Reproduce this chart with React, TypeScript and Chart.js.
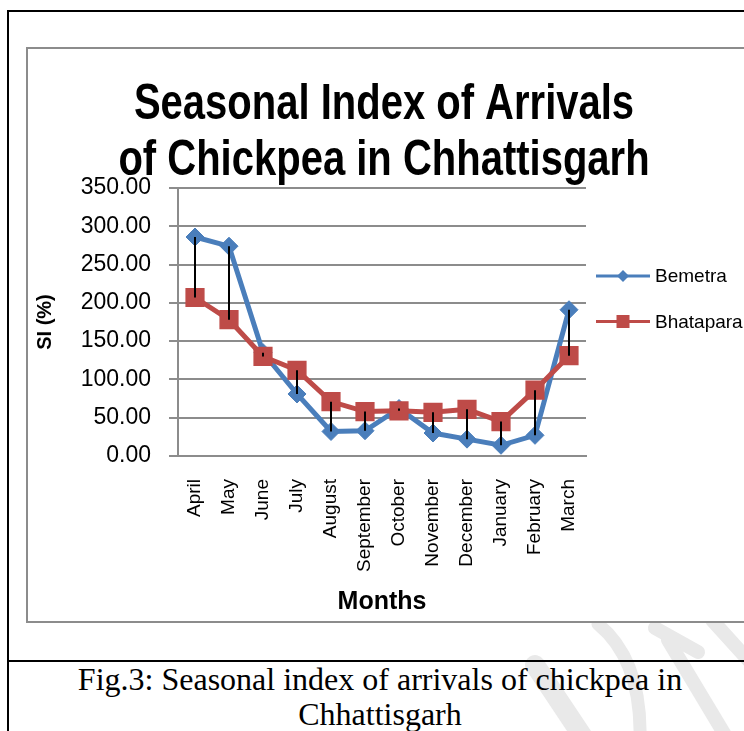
import React, { useEffect, useRef } from "react";
import { Chart, registerables } from "chart.js";

Chart.register(...registerables);

const months = ["April", "May", "June", "July", "August", "September", "October", "November", "December", "January", "February", "March"];
const bemetra = [286, 274, 135, 81, 32, 33, 62, 30, 22, 14, 27, 191];
const bhatapara = [207, 178, 130, 112, 71, 58, 59, 57, 61, 45, 86, 131];
const seriesNames = ["Bemetra", "Bhatapara"];
const titleLines = ["Seasonal Index of Arrivals", "of Chickpea in Chhattisgarh"];
const yTitle = "SI (%)";
const xTitle = "Months";

const BLUE = "#4A7EBB";
const RED = "#BE4B48";
const GRID = "#8c8c8c";
const SANS = "'Liberation Sans', Arial, sans-serif";

const titlePlugin = {
  id: "scaledTitle",
  afterDraw(chart: any) {
    const ctx = chart.ctx;
    ctx.save();
    ctx.font = `bold 50px ${SANS}`;
    ctx.fillStyle = "#000";
    ctx.textAlign = "center";
    ctx.textBaseline = "alphabetic";
    const cx = chart.width / 2 - 2;
    const ys = [70, 126];
    titleLines.forEach((t, i) => {
      ctx.save();
      ctx.translate(cx, ys[i]);
      ctx.scale(0.8, 1);
      ctx.fillText(t, 0, 0);
      ctx.restore();
    });
    ctx.restore();
  },
};

const hiLoPlugin = {
  id: "hilo",
  afterDatasetsDraw(chart: any) {
    const a = chart.getDatasetMeta(0).data;
    const b = chart.getDatasetMeta(1).data;
    const ctx = chart.ctx;
    ctx.save();
    ctx.strokeStyle = "#000";
    ctx.lineWidth = 2;
    ctx.beginPath();
    for (let i = 0; i < a.length; i++) {
      ctx.moveTo(a[i].x, a[i].y);
      ctx.lineTo(b[i].x, b[i].y);
    }
    ctx.stroke();
    ctx.restore();
  },
};

const legendPlugin = {
  id: "customLegend",
  afterDraw(chart: any) {
    const ctx = chart.ctx;
    const area = chart.chartArea;
    const x0 = area.right + 10;
    const x1 = area.right + 64;
    const xm = (x0 + x1) / 2;
    const ys = [227, 272.5];
    const colors = [BLUE, RED];
    ctx.save();
    for (let i = 0; i < 2; i++) {
      const y = ys[i];
      ctx.strokeStyle = colors[i];
      ctx.lineWidth = 3;
      ctx.beginPath();
      ctx.moveTo(x0, y);
      ctx.lineTo(x1, y);
      ctx.stroke();
      ctx.fillStyle = colors[i];
      ctx.beginPath();
      if (i === 0) {
        const r = 6;
        ctx.moveTo(xm, y - r);
        ctx.lineTo(xm + r, y);
        ctx.lineTo(xm, y + r);
        ctx.lineTo(xm - r, y);
        ctx.closePath();
      } else {
        ctx.rect(xm - 6.5, y - 6.5, 13, 13);
      }
      ctx.fill();
      ctx.fillStyle = "#000";
      ctx.font = `19px ${SANS}`;
      ctx.textBaseline = "middle";
      ctx.textAlign = "left";
      ctx.fillText(seriesNames[i], x1 + 5, y + 1);
    }
    ctx.restore();
  },
};

function ChartCanvas() {
  const ref = useRef<HTMLCanvasElement | null>(null);
  useEffect(() => {
    if (!ref.current) return;
    const chart = new Chart(ref.current, {
      type: "line",
      data: {
        labels: months,
        datasets: [
          {
            label: seriesNames[0],
            data: bemetra,
            borderColor: BLUE,
            backgroundColor: BLUE,
            borderWidth: 5,
            pointStyle: "rectRot",
            pointRadius: 9,
            pointBorderWidth: 1,
            pointBackgroundColor: BLUE,
            pointBorderColor: BLUE,
            tension: 0,
            order: 1,
          },
          {
            label: seriesNames[1],
            data: bhatapara,
            borderColor: RED,
            backgroundColor: RED,
            borderWidth: 5,
            pointStyle: "rect",
            pointRadius: 12.5,
            pointBorderWidth: 1.5,
            pointBackgroundColor: RED,
            pointBorderColor: RED,
            tension: 0,
            order: 0,
          },
        ],
      },
      options: {
        animation: false,
        responsive: false,
        layout: { padding: { top: 139, left: 0, right: 0, bottom: 0 } },
        plugins: {
          legend: { display: false },
          tooltip: { enabled: false },
          title: { display: false },
        },
        scales: {
          x: {
            type: "category",
            offset: true,
            grid: { display: false, drawTicks: false },
            border: { display: true, color: GRID, width: 2 },
            ticks: {
              autoSkip: false,
              maxRotation: 90,
              minRotation: 90,
              padding: 23,
              color: "#000",
              font: { family: SANS, size: 19 },
            },
            title: {
              display: true,
              text: xTitle,
              color: "#000",
              font: { family: SANS, size: 25, weight: "bold", lineHeight: 1.2 },
              padding: { top: 0, bottom: 4 },
            },
            afterFit: (s: any) => {
              s.height = 165;
            },
          },
          y: {
            min: 0,
            max: 350,
            ticks: {
              stepSize: 50,
              padding: 18,
              color: "#000",
              font: { family: SANS, size: 23 },
              callback: (v: any) => Number(v).toFixed(2),
            },
            grid: { color: GRID, lineWidth: 2, drawTicks: true, tickLength: 9, tickColor: GRID },
            border: { display: true, color: GRID, width: 2 },
            title: {
              display: true,
              text: yTitle,
              color: "#000",
              font: { family: SANS, size: 20, weight: "bold", lineHeight: 1.2 },
              padding: { top: 5, bottom: 0 },
            },
            afterFit: (s: any) => {
              s.width = 150;
            },
          },
          yRight: {
            type: "linear",
            position: "right",
            display: true,
            grid: { display: false, drawTicks: false },
            border: { display: false },
            ticks: { display: false },
            afterFit: (s: any) => {
              s.width = 158;
            },
          },
        },
      },
      plugins: [hiLoPlugin, legendPlugin, titlePlugin],
    } as any);
    return () => chart.destroy();
  }, []);
  return <canvas ref={ref} width={716} height={572} style={{ width: 716, height: 572, display: "block" }} />;
}

export default function App() {
  return (
    <div style={{ position: "absolute", left: 0, top: 0, width: 744, height: 731, overflow: "hidden", background: "#fff" }}>
      <svg width={744} height={731} style={{ position: "absolute", left: 0, top: 0 }}>
        <g stroke="#e9e9e9" fill="none" strokeLinecap="round">
          <path d="M 598 624 Q 642 660 640 740" strokeWidth={13} />
          <path d="M 535 665 L 585 740" strokeWidth={20} />
          <path d="M 655 628 L 698 652" strokeWidth={14} />
          <path d="M 668 640 L 728 740" strokeWidth={14} />
          <path d="M 712 620 L 750 662" strokeWidth={14} />
        </g>
      </svg>
      <div style={{ position: "absolute", left: 7, top: 10, width: 780, height: 760, borderTop: "2px solid #000", borderLeft: "2px solid #000", boxSizing: "border-box" }} />
      <div style={{ position: "absolute", left: 7, top: 660, width: 780, height: 2, background: "#000" }} />
      <div style={{ position: "absolute", left: 26, top: 47, width: 780, height: 576, border: "2px solid " + GRID, boxSizing: "border-box", background: "#fff" }} />
      <div style={{ position: "absolute", left: 28, top: 49 }}>
        <ChartCanvas />
      </div>
      <div
        style={{
          position: "absolute",
          left: 9,
          top: 662,
          width: 742,
          textAlign: "center",
          fontFamily: "'Liberation Serif', 'Times New Roman', serif",
          fontSize: 32,
          lineHeight: "35px",
          color: "#000",
          whiteSpace: "nowrap",
        }}
      >
        Fig.3: Seasonal index of arrivals of chickpea in
        <br />
        Chhattisgarh
      </div>
    </div>
  );
}
